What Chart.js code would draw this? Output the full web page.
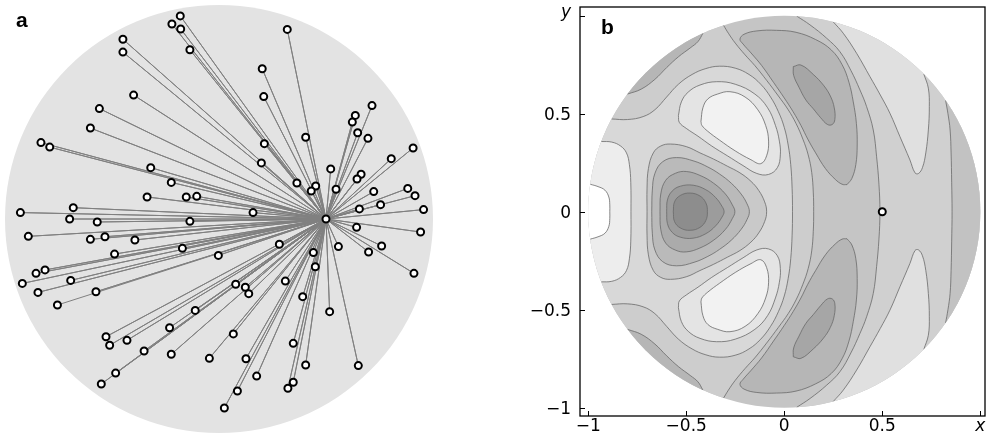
<!DOCTYPE html>
<html>
<head>
<meta charset="utf-8">
<script src="https://cdn.jsdelivr.net/npm/chart.js@4.4.1/dist/chart.umd.min.js"></script>
<style>
html,body{margin:0;padding:0;background:#fff;width:991px;height:442px;overflow:hidden}
#wrapA{position:absolute;left:0;top:0;width:438px;height:438px}
#wrapB{position:absolute;left:520px;top:0;width:471px;height:442px}
</style>
</head>
<body>
<div id="wrapA"><canvas id="chartA" width="438" height="438"></canvas></div>
<div id="wrapB"><canvas id="chartB" width="471" height="442"></canvas></div>
<script>
// ---- panel a : points on the unit disk, all joined to the target point
var target = [0.5, 0];
var sourceX = [-0.181,-0.220,-0.179,-0.449,-0.449,-0.136,0.319,0.202,0.209,-0.399,
  -0.559,-0.601,-0.832,-0.791,0.212,0.405,0.198,-0.319,-0.223,-0.336,
  -0.153,-0.104,0.364,0.452,0.431,0.522,0.547,0.637,0.623,0.715,
  0.648,0.696,0.907,0.805,0.664,0.645,0.723,0.882,0.916,0.755,
  0.656,0.956,0.643,0.942,0.760,0.699,0.558,0.911,0.441,0.450,
  0.282,0.310,0.391,0.517,0.651,0.347,0.405,0.347,0.322,0.176,
  0.126,0.086,0.025,0.067,-0.045,-0.223,-0.350,-0.483,-0.550,-0.528,
  -0.511,-0.430,-0.231,-0.111,0.078,0.123,0.139,-0.003,-0.171,-0.488,
  -0.393,-0.533,-0.601,-0.891,-0.928,-0.681,-0.698,-0.569,-0.136,0.159,
  -0.813,-0.855,-0.919,-0.846,-0.693,-0.575,-0.755];
var sourceY = [0.949,0.911,0.888,0.840,0.780,0.791,0.886,0.702,0.572,0.579,
  0.516,0.425,0.357,0.336,0.352,0.382,0.262,0.240,0.171,0.103,
  0.103,0.106,0.168,0.154,0.131,0.234,0.139,0.484,0.453,0.530,
  0.403,0.377,0.332,0.282,0.209,0.187,0.128,0.143,0.109,0.067,
  0.047,0.044,-0.039,-0.061,-0.126,-0.154,-0.129,-0.254,-0.157,-0.223,
  -0.118,-0.290,-0.363,-0.433,-0.685,-0.581,-0.682,-0.763,-0.791,-0.734,
  -0.653,-0.804,-0.883,-0.537,-0.651,-0.632,-0.617,-0.720,-0.771,-0.550,
  -0.590,-0.567,-0.508,-0.427,-0.305,-0.319,-0.349,-0.170,-0.137,-0.164,
  -0.098,-0.083,-0.095,-0.081,0.030,0.053,0.000,-0.014,-0.011,0.030,
  -0.238,-0.254,-0.301,-0.343,-0.287,-0.340,-0.402];

// ---- panel b : contour lines of the upper half (the plot is symmetric in y)
var contourK = [[-0.31,0.951],[-0.285,0.91],[-0.25,0.86],[-0.20,0.80],[-0.15,0.745],[-0.09,0.67],[-0.03,0.59],[0.02,0.52],[0.06,0.45],[0.095,0.37],[0.122,0.29],[0.14,0.2],[0.148,0.1],[0.15,0]];
var contourC1 = [[-0.80,0.60],[-0.73,0.625],[-0.66,0.675],[-0.60,0.735],[-0.54,0.79],[-0.48,0.835],[-0.44,0.868],[-0.415,0.91]];
var contourC2 = [[-0.881,0.473],[-0.80,0.470],[-0.72,0.485],[-0.66,0.52],[-0.60,0.585],[-0.54,0.65],[-0.47,0.70],[-0.40,0.73],[-0.33,0.742],[-0.25,0.732],[-0.18,0.70],[-0.12,0.65],[-0.07,0.585],[-0.03,0.51],[0.0,0.43],[0.02,0.34],[0.033,0.24],[0.04,0.12],[0.042,0]];
var contourEdgeRing = [[-0.934,0.358],[-0.88,0.355],[-0.835,0.335],[-0.805,0.30],[-0.79,0.24],[-0.783,0.15],[-0.782,0]];
var contourEdgeBlob = [[-0.99,0.14],[-0.95,0.128],[-0.915,0.11],[-0.895,0.075],[-0.89,0.035],[-0.89,0]];
var contourUpperRing = [[-0.54,0.49],[-0.525,0.56],[-0.49,0.61],[-0.43,0.646],[-0.345,0.663],[-0.25,0.65],[-0.15,0.60],[-0.085,0.53],[-0.045,0.44],[-0.025,0.36],[-0.02,0.29],[-0.035,0.225],[-0.08,0.19],[-0.14,0.195],[-0.21,0.235],[-0.29,0.285],[-0.37,0.335],[-0.44,0.385],[-0.50,0.425],[-0.535,0.455]];
var contourUpperBlob = [[-0.425,0.46],[-0.415,0.53],[-0.39,0.575],[-0.34,0.60],[-0.277,0.612],[-0.20,0.585],[-0.135,0.52],[-0.095,0.44],[-0.08,0.36],[-0.09,0.285],[-0.12,0.245],[-0.17,0.265],[-0.25,0.31],[-0.33,0.365],[-0.39,0.41],[-0.42,0.44]];
var contourWell1 = [[-0.70,0],[-0.70,0.12],[-0.693,0.22],[-0.668,0.30],[-0.63,0.335],[-0.58,0.345],[-0.50,0.332],[-0.43,0.30],[-0.36,0.268],[-0.29,0.232],[-0.226,0.198],[-0.17,0.155],[-0.13,0.108],[-0.10,0.05],[-0.09,0]];
var contourWell2 = [[-0.676,0],[-0.673,0.11],[-0.66,0.195],[-0.62,0.255],[-0.55,0.276],[-0.46,0.258],[-0.39,0.228],[-0.33,0.192],[-0.27,0.145],[-0.22,0.09],[-0.19,0.04],[-0.178,0]];
var contourWell3 = [[-0.634,0],[-0.630,0.09],[-0.605,0.16],[-0.555,0.196],[-0.50,0.205],[-0.43,0.185],[-0.36,0.145],[-0.30,0.09],[-0.265,0.035],[-0.252,0]];
var contourWell4 = [[-0.60,0],[-0.596,0.06],[-0.572,0.105],[-0.53,0.13],[-0.465,0.135],[-0.40,0.112],[-0.35,0.072],[-0.318,0.028],[-0.307,0]];
var contourWell5 = [[-0.566,0],[-0.56,0.05],[-0.53,0.083],[-0.48,0.095],[-0.43,0.08],[-0.40,0.045],[-0.392,0]];
var contourBand = [[0.32,0.138],[0.295,0.14],[0.26,0.165],[0.21,0.22],[0.16,0.30],[0.12,0.37],[0.085,0.44],[0.045,0.51],[0.0,0.58],[-0.055,0.66],[-0.115,0.745],[-0.17,0.81],[-0.21,0.855],[-0.226,0.88],[-0.205,0.905],[-0.14,0.922],[-0.04,0.925],[0.06,0.915],[0.16,0.878],[0.24,0.825],[0.295,0.75],[0.33,0.66],[0.352,0.56],[0.368,0.45],[0.372,0.34],[0.365,0.24],[0.345,0.17]];
var contourBandBlob = [[0.046,0.740],[0.085,0.748],[0.148,0.70],[0.20,0.645],[0.235,0.59],[0.255,0.53],[0.258,0.47],[0.245,0.445],[0.22,0.445],[0.185,0.48],[0.148,0.525],[0.11,0.57],[0.075,0.635],[0.048,0.695]];
var contourAlpha = [[0.063,0.998],[0.131,0.953],[0.216,0.885],[0.284,0.816],[0.34,0.72],[0.386,0.621],[0.42,0.536],[0.454,0.417],[0.471,0.28],[0.483,0.14],[0.488,0]];
var contourBeta = [[0.25,0.968],[0.301,0.91],[0.369,0.808],[0.437,0.689],[0.49,0.595],[0.539,0.502],[0.59,0.383],[0.641,0.264],[0.667,0.198],[0.685,0.195],[0.705,0.225],[0.722,0.30],[0.735,0.417],[0.74,0.536],[0.735,0.63],[0.712,0.702]];
var contourDelta = [[0.823,0.568],[0.835,0.50],[0.846,0.417],[0.851,0.30],[0.854,0.15],[0.856,0]];
var markedPoint = [0.5, 0];

var xTicks = [-1, -0.5, 0, 0.5, 1];
var xTickLabels = ['\u22121', '\u22120.5', '0', '0.5', 'x'];
var yTicks = [-1, -0.5, 0, 0.5, 1];
var yTickLabels = ['\u22121', '\u22120.5', '0', '0.5', 'y'];

// painter's order of the shaded bands
var layers = [
  {curve: contourK, kind: 'mirror', shade: '#cdcdcd'},
  {curve: contourC1, kind: 'edge', shade: '#b6b6b6'},
  {curve: contourC2, kind: 'mirror', shade: '#d8d8d8'},
  {curve: contourEdgeRing, kind: 'mirror', shade: '#ededed'},
  {curve: contourEdgeBlob, kind: 'mirror', shade: '#ffffff'},
  {curve: contourUpperRing, kind: 'loop', shade: '#e4e4e4'},
  {curve: contourUpperBlob, kind: 'loop', shade: '#f2f2f2'},
  {curve: contourWell1, kind: 'mirror', shade: '#c9c9c9'},
  {curve: contourWell2, kind: 'mirror', shade: '#bababa'},
  {curve: contourWell3, kind: 'mirror', shade: '#ababab'},
  {curve: contourWell4, kind: 'mirror', shade: '#9c9c9c'},
  {curve: contourWell5, kind: 'mirror', shade: '#8d8d8d'},
  {curve: contourBand, kind: 'loop', shade: '#b6b6b6'},
  {curve: contourBandBlob, kind: 'loop', shade: '#a6a6a6'},
  {curve: contourAlpha, kind: 'mirror', shade: '#d0d0d0'},
  {curve: contourBeta, kind: 'edge', shade: '#e0e0e0'},
  {curve: contourDelta, kind: 'mirror', shade: '#c2c2c2'}
];
var diskShade = '#c5c5c5';

function toXY(p) { return p.map(function (q) { return {x: q[0], y: q[1]}; }); }
function flip(p) { return p.map(function (q) { return [q[0], -q[1]]; }); }

// ---------- chart a
var pointsA = [];
var spokes = [];
for (var i = 0; i < sourceX.length; i++) {
  pointsA.push({x: sourceX[i], y: sourceY[i]});
  spokes.push({x: target[0], y: target[1]});
  spokes.push({x: sourceX[i], y: sourceY[i]});
}
pointsA.push({x: target[0], y: target[1]});

var diskA = {
  id: 'diskA',
  beforeDatasetsDraw: function (chart) {
    var ctx = chart.ctx, xs = chart.scales.x, ys = chart.scales.y;
    var cx = xs.getPixelForValue(0), cy = ys.getPixelForValue(0);
    var r = xs.getPixelForValue(1) - cx;
    ctx.save();
    ctx.fillStyle = '#e3e3e3';
    ctx.beginPath();
    ctx.arc(cx, cy, r, 0, Math.PI * 2);
    ctx.fill();
    ctx.restore();
  },
  afterDraw: function (chart) {
    var ctx = chart.ctx;
    ctx.save();
    ctx.fillStyle = '#000';
    ctx.font = 'bold 21px "Liberation Sans", Arial, sans-serif';
    ctx.fillText('a', 16, 27);
    ctx.restore();
  }
};

var ext = 219 / 214;
new Chart(document.getElementById('chartA').getContext('2d'), {
  type: 'scatter',
  data: {
    datasets: [{
      data: pointsA,
      pointRadius: 3.5,
      pointBackgroundColor: '#ffffff',
      pointBorderColor: '#000000',
      pointBorderWidth: 2
    }, {
      data: spokes,
      showLine: true,
      pointRadius: 0,
      borderColor: '#808080',
      borderWidth: 1
    }]
  },
  options: {
    responsive: false,
    animation: false,
    events: [],
    layout: {padding: 0, autoPadding: false},
    plugins: {legend: {display: false}, tooltip: {enabled: false}},
    scales: {
      x: {type: 'linear', min: -ext, max: ext, display: false},
      y: {type: 'linear', min: -ext, max: ext, display: false}
    }
  },
  plugins: [diskA]
});

// ---------- chart b
var datasetsB = [{
  data: [{x: markedPoint[0], y: markedPoint[1]}],
  pointRadius: 3.5,
  pointBackgroundColor: '#ffffff',
  pointBorderColor: '#000000',
  pointBorderWidth: 2
}];
layers.forEach(function (L) {
  var copies = [];
  if (L.kind === 'mirror') {
    copies.push(L.curve.concat(flip(L.curve).reverse().slice(1)));
  } else if (L.kind === 'loop') {
    copies.push(L.curve.concat([L.curve[0]]));
    var f = flip(L.curve);
    copies.push(f.concat([f[0]]));
  } else {
    copies.push(L.curve.slice());
    copies.push(flip(L.curve));
  }
  copies.forEach(function (c) {
    var r0 = Math.hypot(c[0][0], c[0][1]);
    datasetsB.push({
      data: toXY(c),
      showLine: true,
      pointRadius: 0,
      borderColor: '#6a6a6a',
      borderWidth: 0.8,
      tension: 0.4,
      regionFill: L.shade,
      closeByArc: L.kind !== 'loop' && r0 > 0.97
    });
  });
});

function diskPath(chart) {
  var ctx = chart.ctx, xs = chart.scales.x, ys = chart.scales.y;
  var cx = xs.getPixelForValue(0), cy = ys.getPixelForValue(0);
  var r = xs.getPixelForValue(1) - cx;
  ctx.beginPath();
  ctx.arc(cx, cy, r, 0, Math.PI * 2);
}

var contourB = {
  id: 'contourB',
  beforeDatasetsDraw: function (chart) {
    var ctx = chart.ctx, xs = chart.scales.x, ys = chart.scales.y;
    ctx.save();
    diskPath(chart);
    ctx.fillStyle = diskShade;
    ctx.fill();
    ctx.clip();
    chart.data.datasets.forEach(function (ds, i) {
      if (!ds.regionFill) return;
      var line = chart.getDatasetMeta(i).dataset;
      if (!line) return;
      if (line.updateControlPoints) line.updateControlPoints(chart.chartArea, 'x');
      ctx.beginPath();
      line.path(ctx);
      if (ds.closeByArc) {
        var first = ds.data[0], last = ds.data[ds.data.length - 1];
        var a1 = Math.atan2(last.y, last.x), a0 = Math.atan2(first.y, first.x);
        var d = a0 - a1;
        while (d > Math.PI) d -= 2 * Math.PI;
        while (d < -Math.PI) d += 2 * Math.PI;
        for (var k = 0; k <= 40; k++) {
          var a = a1 + d * k / 40;
          ctx.lineTo(xs.getPixelForValue(1.2 * Math.cos(a)), ys.getPixelForValue(1.2 * Math.sin(a)));
        }
      }
      ctx.closePath();
      ctx.fillStyle = ds.regionFill;
      ctx.fill();
    });
    ctx.restore();
  },
  beforeDatasetDraw: function (chart, args) {
    var ds = chart.data.datasets[args.index];
    if (ds.regionFill) {
      chart.ctx.save();
      diskPath(chart);
      chart.ctx.clip();
    }
  },
  afterDatasetDraw: function (chart, args) {
    var ds = chart.data.datasets[args.index];
    if (ds.regionFill) chart.ctx.restore();
  },
  afterDraw: function (chart) {
    var ctx = chart.ctx, xs = chart.scales.x, ys = chart.scales.y, a = chart.chartArea;
    ctx.save();
    ctx.strokeStyle = '#000';
    ctx.lineWidth = 1.3;
    ctx.strokeRect(a.left, a.top, a.right - a.left, a.bottom - a.top);
    ctx.lineWidth = 1;
    ctx.beginPath();
    xTicks.forEach(function (v) {
      var px = Math.round(xs.getPixelForValue(v)) + 0.5;
      ctx.moveTo(px, a.bottom);
      ctx.lineTo(px, a.bottom - 5);
    });
    yTicks.forEach(function (v) {
      var py = Math.round(ys.getPixelForValue(v)) + 0.5;
      ctx.moveTo(a.left, py);
      ctx.lineTo(a.left + 5, py);
    });
    ctx.stroke();
    ctx.fillStyle = '#000';
    ctx.textAlign = 'center';
    ctx.textBaseline = 'alphabetic';
    xTicks.forEach(function (v, i) {
      var lab = xTickLabels[i];
      ctx.font = (lab === 'x' ? 'italic ' : '') + '17px "DejaVu Sans", sans-serif';
      ctx.fillText(lab, xs.getPixelForValue(v), a.bottom + 15);
    });
    ctx.textAlign = 'right';
    yTicks.forEach(function (v, i) {
      var lab = yTickLabels[i];
      ctx.font = (lab === 'y' ? 'italic ' : '') + '17px "DejaVu Sans", sans-serif';
      var py = ys.getPixelForValue(v);
      ctx.fillText(lab, a.left - 9, lab === 'y' ? py + 1 : py + 6);
    });
    ctx.textAlign = 'left';
    ctx.font = 'bold 21px "Liberation Sans", Arial, sans-serif';
    ctx.fillText('b', a.left + 21, a.top + 27);
    ctx.restore();
  }
};

new Chart(document.getElementById('chartB').getContext('2d'), {
  type: 'scatter',
  data: {datasets: datasetsB},
  options: {
    responsive: false,
    animation: false,
    events: [],
    layout: {padding: {left: 60, right: 6, top: 7, bottom: 26}, autoPadding: false},
    plugins: {legend: {display: false}, tooltip: {enabled: false}},
    scales: {
      x: {type: 'linear', min: -1.042, max: 1.024, display: false},
      y: {type: 'linear', min: -1.042, max: 1.044, display: false}
    }
  },
  plugins: [contourB]
});
</script>
</body>
</html>
